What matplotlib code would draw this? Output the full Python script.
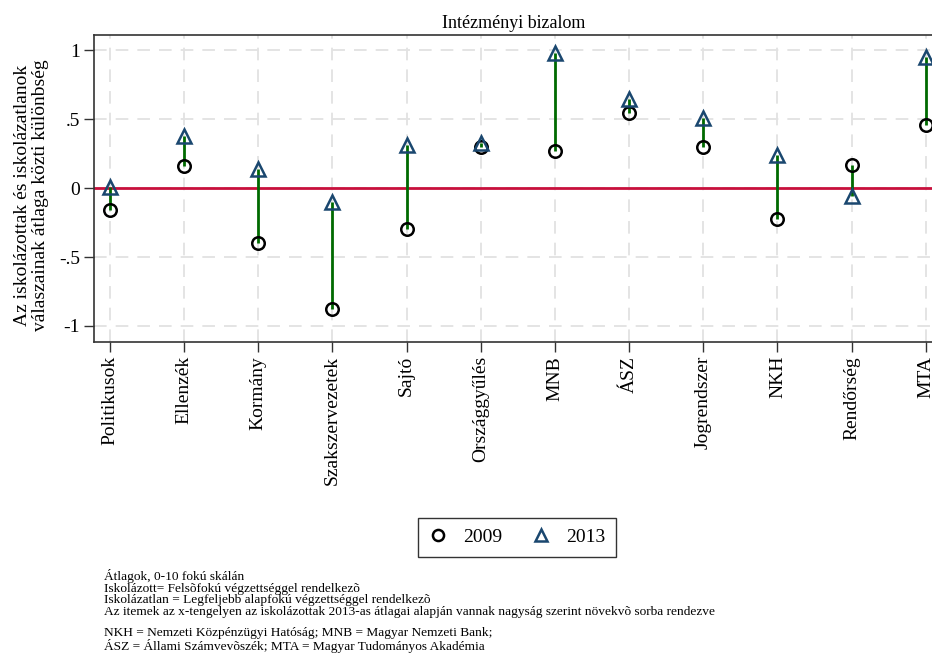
import matplotlib
matplotlib.use("Agg")
import matplotlib.pyplot as plt
from matplotlib.lines import Line2D
import numpy as np

categories = ["Politikusok", "Ellenzék", "Kormány", "Szakszervezetek", "Sajtó",
              "Országgyűlés", "MNB", "ÁSZ", "Jogrendszer", "NKH", "Rendőrség", "MTA"]
values_2009 = [-0.16, 0.16, -0.40, -0.875, -0.295, 0.30, 0.27, 0.546, 0.295, -0.227, 0.164, 0.454]
values_2013 = [0.01, 0.377, 0.135, -0.10, 0.314, 0.324, 0.98, 0.643, 0.507, 0.237, -0.058, 0.947]
y_ticks = [-1, -0.5, 0, 0.5, 1]
y_ticklabels = ["-1", "-.5", "0", ".5", "1"]

notes = ["Átlagok, 0-10 fokú skálán",
         "Iskolázott= Felsõfokú végzettséggel rendelkezõ",
         "Iskolázatlan = Legfeljebb alapfokú végzettséggel rendelkezõ",
         "Az itemek az x-tengelyen az iskolázottak 2013-as átlagai alapján vannak nagyság szerint növekvõ sorba rendezve"]
notes2 = ["NKH = Nemzeti Közpénzügyi Hatóság; MNB = Magyar Nemzeti Bank;",
          "ÁSZ = Állami Számvevõszék; MTA = Magyar Tudományos Akadémia"]

plt.rcParams['font.family'] = ['Liberation Serif', 'DejaVu Serif']

W, H = 932, 668
fig = plt.figure(figsize=(W / 100, H / 100), dpi=100)
ax = fig.add_axes([94 / W, 1 - 342 / H, (W - 94) / W + 0.002, (342 - 35) / H])

x = np.arange(1, len(categories) + 1)
navy = "#1a476f"
green = "#006a00"
red = "#c8103c"

ax.axhline(0, color=red, lw=2.0, zorder=2)
ax.vlines(x, values_2009, values_2013, color=green, lw=2.0, zorder=3)
ax.plot(x, values_2009, linestyle="none", marker="o", ms=9, mfc="none",
        mec="black", mew=1.8, zorder=4)
ax.plot(x, values_2013, linestyle="none", marker="^", ms=10, mfc="none",
        mec=navy, mew=1.8, zorder=4)

ax.set_xlim(0.784, 12.11)
ax.set_ylim(-1.116, 1.109)
ax.set_yticks(y_ticks)
ax.set_yticklabels(y_ticklabels, fontsize=14)
ax.set_xticks(x)
ax.set_xticklabels(categories, rotation=90, fontsize=14, va="top")
ax.tick_params(axis="both", direction="out", length=7.5, width=1, color="#333333", pad=2.5)
ax.grid(True, color="#e2e2e2", lw=1.3, linestyle=(0, (7, 5)), zorder=0)
ax.set_axisbelow(True)
for s in ["left", "top", "bottom"]:
    ax.spines[s].set_color("#333333")
    ax.spines[s].set_linewidth(1.2)
ax.spines["right"].set_visible(False)

ax.set_ylabel("Az iskolázottak és iskolázatlanok\nválaszainak átlaga közti különbség",
              fontsize=14, linespacing=1.1, va="center", ha="center")
ax.yaxis.set_label_coords((31.5 - 94) / (W - 94), (342 - 195) / 307)
ax.set_title("Intézményi bizalom", fontsize=13, pad=5)

handles = [Line2D([], [], linestyle="none", marker="o", ms=8, mfc="none", mec="black", mew=1.8),
           Line2D([], [], linestyle="none", marker="^", ms=9, mfc="none", mec=navy, mew=1.8)]
leg = fig.legend(handles, ["2009", "2013"], loc="center", bbox_to_anchor=(517 / W, 1 - 537 / H),
                 ncol=2, fontsize=14, frameon=True, fancybox=False, edgecolor="black",
                 handlelength=1.0, handletextpad=0.8, columnspacing=1.5, borderpad=0.55,
                 borderaxespad=0)
leg.get_frame().set_linewidth(1.0)

fig.text(104 / W, 1 - 569 / H, "\n".join(notes), fontsize=9.6, va="top", ha="left",
         linespacing=0.96)
fig.text(104 / W, 1 - 627 / H, "\n".join(notes2), fontsize=9.6, va="top", ha="left",
         linespacing=0.96)

fig.savefig("out.png", dpi=100)
